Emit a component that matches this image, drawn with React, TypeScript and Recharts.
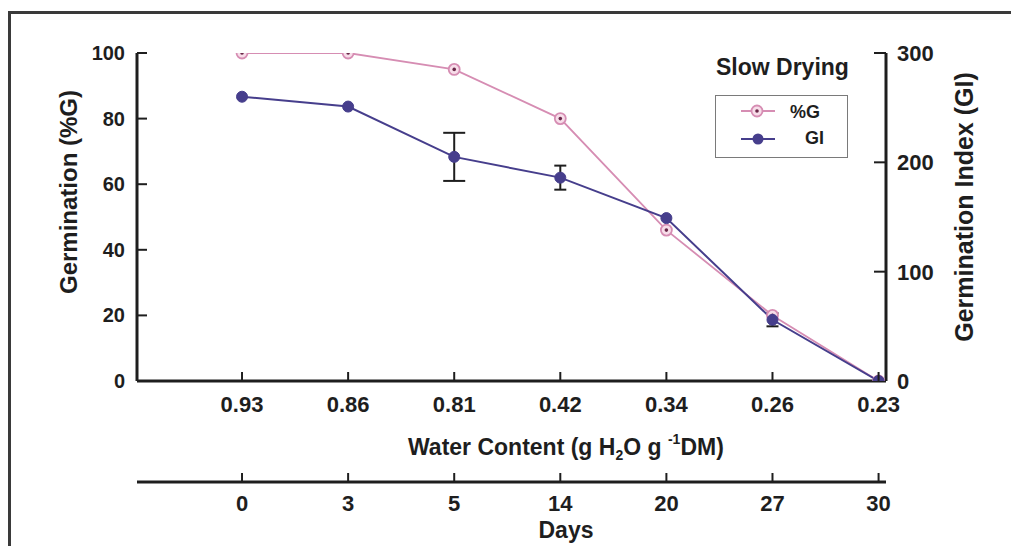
import React from 'react';
import { ComposedChart, Line, XAxis, YAxis, ErrorBar, Legend } from 'recharts';

const waterContent = ['0.93', '0.86', '0.81', '0.42', '0.34', '0.26', '0.23'];
const dayLabels = ['0', '3', '5', '14', '20', '27', '30'];
const germinationPct = [100, 100, 95, 80, 46, 20, 0];
const germinationIndex = [260, 251, 205, 186, 149, 56, 0];
const giErrorWide = [null, null, 22, null, null, null, null];
const giErrorNarrow = [null, null, null, 11, null, 6, null];
const leftTicks = [0, 20, 40, 60, 80, 100];
const rightTicks = [0, 100, 200, 300];

const data = waterContent.map((wc, i) => ({
  idx: i,
  wc,
  day: dayLabels[i],
  pg: germinationPct[i],
  gi: germinationIndex[i],
  errW: giErrorWide[i],
  errN: giErrorNarrow[i],
}));
const xTicks = data.map((d) => d.idx);

const FONT = "'Liberation Sans', Arial, Helvetica, sans-serif";
const INK = '#1e1e1e';
const PINK = '#d68db3';
const PINK_FILL = '#f7dde9';
const PINK_CORE = '#6a2748';
const NAVY = '#463e8c';

const LeftTick = (props: any) => {
  const { x, y, payload } = props;
  return (
    <g>
      {payload.value !== 0 && <line x1={x} x2={x + 10} y1={y} y2={y} stroke={INK} strokeWidth={2} />}
      <text x={x - 12} y={y} dy={7} textAnchor="end" fontSize={20} fontWeight="bold" fontFamily={FONT} fill={INK}>
        {payload.value}
      </text>
    </g>
  );
};

const RightTick = (props: any) => {
  const { x, y, payload } = props;
  return (
    <g>
      {payload.value !== 0 && <line x1={x} x2={x - 12} y1={y} y2={y} stroke={INK} strokeWidth={2} />}
      <text x={x + 11} y={y} dy={8} textAnchor="start" fontSize={22} fontWeight="bold" fontFamily={FONT} fill={INK}>
        {payload.value}
      </text>
    </g>
  );
};

const makeBottomTick = (labels: string[], offset: number) => (props: any) => {
  const { x, y, payload } = props;
  return (
    <g>
      <line x1={x} x2={x} y1={y} y2={y - 9} stroke={INK} strokeWidth={2} />
      <text x={x} y={y + offset} textAnchor="middle" fontSize={22} fontWeight="bold" fontFamily={FONT} fill={INK}>
        {labels[payload.value]}
      </text>
    </g>
  );
};
const WcTick = makeBottomTick(waterContent, 31);
const DayTick = makeBottomTick(dayLabels, 29);

const PctDot = (props: any) => {
  const { cx, cy, index } = props;
  if (cx == null || cy == null) return <g key={index} />;
  return (
    <g key={index}>
      <circle cx={cx} cy={cy} r={5.5} fill={PINK_FILL} stroke={PINK} strokeWidth={1.8} />
      <circle cx={cx} cy={cy} r={1.8} fill={PINK_CORE} />
    </g>
  );
};

const GiDot = (props: any) => {
  const { cx, cy, index } = props;
  if (cx == null || cy == null) return <g key={index} />;
  return <circle key={index} cx={cx} cy={cy} r={5.5} fill={NAVY} stroke={NAVY} strokeWidth={1} />;
};

const LeftTitle = () => (
  <text x={77} y={192} transform="rotate(-90 77 192)" textAnchor="middle" fontSize={24} fontWeight="bold" fontFamily={FONT} fill={INK}>
    Germination (%G)
  </text>
);

const RightTitle = () => (
  <text x={973} y={207} transform="rotate(-90 973 207)" textAnchor="middle" fontSize={25} fontWeight="bold" fontFamily={FONT} fill={INK}>
    Germination Index (GI)
  </text>
);

const WcTitle = () => (
  <text x={408} y={455} textAnchor="start" fontSize={23} fontWeight="bold" fontFamily={FONT} fill={INK}>
    Water Content (g H<tspan fontSize={14} dy={5}>2</tspan>
    <tspan dy={-5}>O g </tspan>
    <tspan fontSize={14} dy={-11}>-1</tspan>
    <tspan dy={11}>DM)</tspan>
  </text>
);

const DaysTitle = () => (
  <text x={566} y={538} textAnchor="middle" fontSize={23} fontWeight="bold" fontFamily={FONT} fill={INK}>
    Days
  </text>
);

const LegendBox = () => (
  <svg width={160} height={112} style={{ display: 'block', overflow: 'visible' }}>
    <text x={16} y={25} fontSize={23} fontWeight="bold" fontFamily={FONT} fill={INK}>
      Slow Drying
    </text>
    <rect x={15.5} y={45.5} width={132} height={62} fill="#fff" stroke="#7a7a7a" strokeWidth={1} />
    <line x1={41} x2={75} y1={61} y2={61} stroke={PINK} strokeWidth={1.8} />
    <circle cx={57} cy={61} r={5.5} fill={PINK_FILL} stroke={PINK} strokeWidth={1.8} />
    <circle cx={57} cy={61} r={1.8} fill={PINK_CORE} />
    <text x={90} y={68} fontSize={18} fontWeight="bold" fontFamily={FONT} fill={INK}>
      %G
    </text>
    <line x1={41} x2={75} y1={89} y2={89} stroke={NAVY} strokeWidth={2} />
    <circle cx={58} cy={89} r={5.5} fill={NAVY} />
    <text x={105} y={94} fontSize={18} fontWeight="bold" fontFamily={FONT} fill={INK}>
      GI
    </text>
  </svg>
);

export default function App() {
  return (
    <div style={{ position: 'absolute', left: 0, top: 0, width: 1011, height: 546, background: '#fff', overflow: 'hidden' }}>
      <div
        style={{
          position: 'absolute',
          left: 8,
          top: 11,
          width: 1003,
          height: 535,
          borderTop: '3px solid #3a3a3a',
          borderLeft: '3px solid #3a3a3a',
          boxSizing: 'border-box',
        }}
      />
      <div style={{ position: 'absolute', left: 0, top: 0 }}>
        <ComposedChart width={1011} height={546} data={data} margin={{ top: 53, right: 0, bottom: 0, left: 0 }}>
          <XAxis
            xAxisId="z_days"
            type="number"
            dataKey="idx"
            domain={[-0.99, 6.07]}
            ticks={xTicks}
            allowDataOverflow
            height={64}
            axisLine={{ stroke: INK, strokeWidth: 3 }}
            tickLine={false}
            tickSize={0}
            tickMargin={0}
            tick={<DayTick />}
            interval={0}
            label={<DaysTitle />}
          />
          <XAxis
            xAxisId="a_wc"
            type="number"
            dataKey="idx"
            domain={[-0.99, 6.07]}
            ticks={xTicks}
            allowDataOverflow
            height={101}
            axisLine={{ stroke: INK, strokeWidth: 3 }}
            tickLine={false}
            tickSize={0}
            tickMargin={0}
            tick={<WcTick />}
            interval={0}
            label={<WcTitle />}
          />
          <YAxis
            yAxisId="l"
            orientation="left"
            domain={[0, 100]}
            ticks={leftTicks}
            allowDataOverflow
            width={137}
            axisLine={{ stroke: INK, strokeWidth: 3 }}
            tickLine={false}
            tickSize={0}
            tickMargin={0}
            tick={<LeftTick />}
            interval={0}
            label={<LeftTitle />}
          />
          <YAxis
            yAxisId="r"
            orientation="right"
            domain={[0, 300]}
            ticks={rightTicks}
            allowDataOverflow
            width={125}
            axisLine={{ stroke: INK, strokeWidth: 3 }}
            tickLine={false}
            tickSize={0}
            tickMargin={0}
            tick={<RightTick />}
            interval={0}
            label={<RightTitle />}
          />
          <Legend
            layout="horizontal"
            verticalAlign="middle"
            align="center"
            content={() => <LegendBox />}
            wrapperStyle={{ position: 'absolute', left: 700, top: 50, width: 160, height: 112 }}
          />
          <Line
            xAxisId="a_wc"
            yAxisId="l"
            type="linear"
            dataKey="pg"
            name="%G"
            stroke={PINK}
            strokeWidth={1.8}
            dot={<PctDot />}
            activeDot={false}
            isAnimationActive={false}
          />
          <Line
            xAxisId="a_wc"
            yAxisId="r"
            type="linear"
            dataKey="gi"
            name="GI"
            stroke={NAVY}
            strokeWidth={2}
            dot={<GiDot />}
            activeDot={false}
            isAnimationActive={false}
          >
            <ErrorBar dataKey="errW" width={11} stroke={INK} strokeWidth={2} direction="y" isAnimationActive={false} />
            <ErrorBar dataKey="errN" width={6} stroke={INK} strokeWidth={2} direction="y" isAnimationActive={false} />
          </Line>
        </ComposedChart>
      </div>
    </div>
  );
}
